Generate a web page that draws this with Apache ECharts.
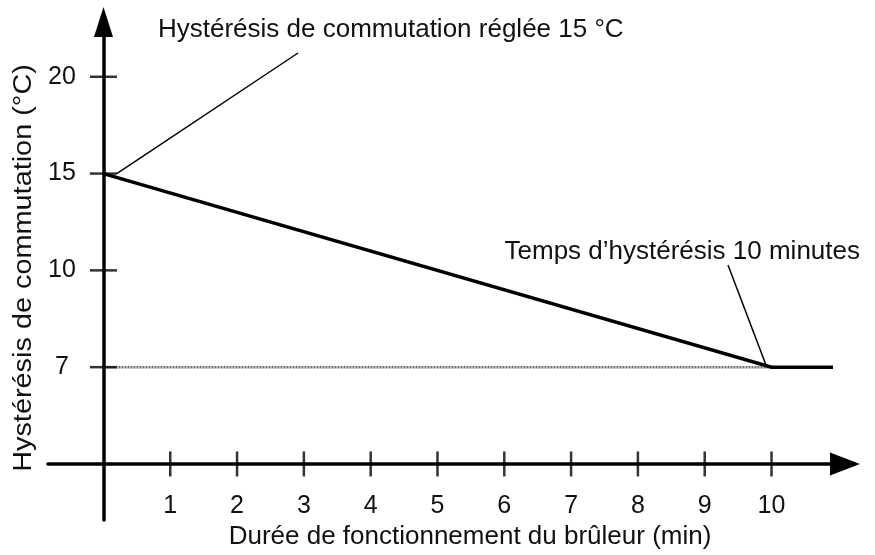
<!DOCTYPE html>
<html>
<head>
<meta charset="utf-8">
<script src="https://cdn.jsdelivr.net/npm/echarts@6/dist/echarts.min.js"></script>
<style>
  html, body { margin: 0; padding: 0; background: #fff; }
  #chart { width: 875px; height: 555px; }
</style>
</head>
<body>
<div id="chart"></div>
<script>
// Burner run time (min) and resulting switching hysteresis (°C)
const runMinutes = [0, 10, 10.92];
const hysteresisC = [15, 7, 7];

// Reference line at the minimum hysteresis
const refMinutes = [0, 10];
const refC = [7, 7];

// Axis ticks; the vertical scale is schematic, one evenly spaced step per label
const xTickValues = [1, 2, 3, 4, 5, 6, 7, 8, 9, 10];
const yTickLabels = ['7', '10', '15', '20'];

// Annotation anchors (minutes, °C)
const setpointAnchor = [0.2, 15];
const timeAnchor = [9.93, 7];

const FONT = "'Liberation Sans', Arial, sans-serif";
const INK = '#111';

// Position of a temperature on the schematic vertical axis
const level = c => yTickLabels.indexOf(String(c)) + 1;

const chart = echarts.init(document.getElementById('chart'), null, { renderer: 'canvas' });

chart.setOption({
  animation: false,
  backgroundColor: '#fff',
  grid: { left: 48, right: 30, top: 22, bottom: 35, containLabel: false, outerBoundsMode: 'none' },
  xAxis: {
    type: 'value',
    position: 'bottom',
    offset: -56,
    min: -0.83,
    max: 11.1,
    splitLine: { show: false },
    axisTick: { show: false },
    axisLine: {
      onZero: false,
      symbol: ['none', 'triangle'],
      symbolSize: [23, 30],
      lineStyle: { color: '#000', width: 3.5 }
    },
    axisLabel: {
      customValues: xTickValues,
      margin: 30,
      fontSize: 25,
      fontFamily: FONT,
      color: INK
    }
  },
  yAxis: {
    type: 'value',
    position: 'left',
    offset: -55.5,
    min: -0.579,
    max: 4.566,
    splitLine: { show: false },
    axisTick: { show: false },
    axisLine: {
      onZero: false,
      symbol: ['none', 'triangle'],
      symbolSize: [19, 30],
      lineStyle: { color: '#000', width: 3.5 }
    },
    axisLabel: {
      customValues: yTickLabels.map((_, i) => i + 1),
      formatter: v => yTickLabels[Math.round(v) - 1] || '',
      align: 'center',
      margin: 41.5,
      fontSize: 25,
      fontFamily: FONT,
      color: INK
    }
  },
  graphic: [
    {
      type: 'text', left: 158, top: 32 - 15, silent: true,
      style: { text: 'Hystérésis de commutation réglée 15 °C', font: '26px ' + FONT, fill: INK }
    },
    {
      type: 'text', right: 15, top: 254 - 15, silent: true,
      style: { text: 'Temps d\u2019hystérésis 10 minutes', font: '26px ' + FONT, fill: INK }
    },
    {
      type: 'text', x: 470, y: 537, silent: true,
      style: { text: 'Durée de fonctionnement du brûleur (min)', font: '26px ' + FONT, fill: INK, align: 'center', verticalAlign: 'middle' }
    },
    {
      type: 'text', x: 24, y: 268, rotation: Math.PI / 2, scaleX: 1.11, silent: true,
      style: { text: 'Hystérésis de commutation (°C)', font: '26px ' + FONT, fill: INK, align: 'center', verticalAlign: 'middle' }
    }
  ],
  series: [
    {
      // dotted reference at the lower limit
      type: 'line',
      z: 2,
      silent: true,
      symbol: 'none',
      data: refMinutes.map((m, i) => [m, level(refC[i])]),
      lineStyle: { color: '#6e6e6e', width: 2.5, type: [2, 1] }
    },
    {
      // hysteresis over burner run time
      type: 'line',
      z: 4,
      silent: true,
      symbol: 'none',
      data: runMinutes.map((m, i) => [m, level(hysteresisC[i])]),
      lineStyle: { color: '#000', width: 3.5, cap: 'butt', join: 'miter' },
      markLine: {
        silent: true,
        symbol: ['none', 'none'],
        label: { show: false },
        lineStyle: { color: '#000', width: 1.5, type: 'solid' },
        data: [
          [{ coord: [setpointAnchor[0], level(setpointAnchor[1])] }, { x: 298, y: 53 }],
          [{ coord: [timeAnchor[0], level(timeAnchor[1])] }, { x: 728, y: 265 }]
        ]
      }
    },
    {
      // x-axis tick marks crossing the axis
      type: 'scatter',
      z: 3,
      silent: true,
      symbol: 'rect',
      symbolSize: [2.5, 25],
      itemStyle: { color: '#000' },
      data: xTickValues.map(v => [v, 0])
    },
    {
      // y-axis tick marks crossing the axis
      type: 'scatter',
      z: 3,
      silent: true,
      symbol: 'rect',
      symbolSize: [27, 2.5],
      itemStyle: { color: '#000' },
      data: yTickLabels.map((_, i) => [0, i + 1])
    }
  ]
});
</script>
</body>
</html>
